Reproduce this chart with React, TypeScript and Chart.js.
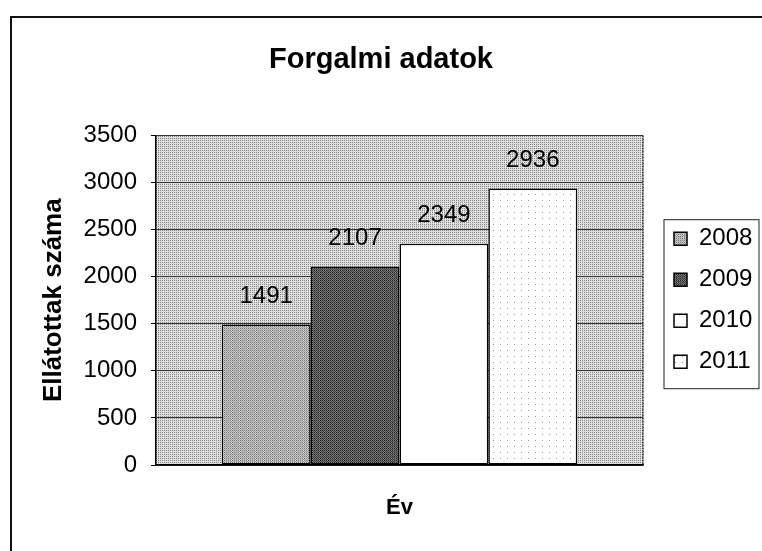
import React, { useEffect, useRef } from "react";
import { Chart, registerables } from "chart.js";

Chart.register(...registerables);

const categories = [""];
const seriesNames = ["2008", "2009", "2010", "2011"];
const values2008 = [1491];
const values2009 = [2107];
const values2010 = [2349];
const values2011 = [2936];
const seriesValues = [values2008, values2009, values2010, values2011];
const yTicks = [0, 500, 1000, 1500, 2000, 2500, 3000, 3500];
const chartTitle = "Forgalmi adatok";
const yTitle = "Ellátottak száma";
const xTitle = "Év";

const FONT = "'Liberation Sans', Arial, Helvetica, sans-serif";

export default function App() {
  const ref = useRef<HTMLCanvasElement>(null);

  useEffect(() => {
    document.body.style.margin = "0";
    document.body.style.overflow = "hidden";
    const canvas = ref.current!;
    const ctx = canvas.getContext("2d")!;

    const pat = (rows: string[][]) => {
      const c = document.createElement("canvas");
      c.width = rows[0].length;
      c.height = rows.length;
      const g = c.getContext("2d")!;
      rows.forEach((r, y) =>
        r.forEach((col, x) => {
          g.fillStyle = col;
          g.fillRect(x, y, 1, 1);
        })
      );
      return ctx.createPattern(c, "repeat")!;
    };

    const plotFill = pat([
      ["#8a8a8a", "#dedede"],
      ["#d6d6d6", "#e2e2e2"],
    ]);
    const W = "#ffffff";
    const fills: any[] = [
      pat([
        ["#7a7a7a", "#c8c8c8"],
        ["#c0c0c0", "#aaaaaa"],
      ]),
      pat([
        ["#2a2a2a", "#7a7a7a"],
        ["#6a6a6a", "#4a4a4a"],
      ]),
      "#ffffff",
      pat([
        [W, W, W, W, W, W, W],
        [W, W, W, W, W, W, W],
        [W, W, W, "#9a9a9a", W, W, W],
        [W, W, W, W, W, W, W],
        [W, W, W, W, W, W, W],
        [W, W, W, W, W, W, W],
      ]),
    ];

    const decor = {
      id: "decor",
      beforeDraw(chart: any) {
        const c = chart.ctx;
        const a = chart.chartArea;
        c.save();
        c.fillStyle = "#ffffff";
        c.fillRect(0, 0, chart.width, chart.height);
        c.strokeStyle = "#111";
        c.lineWidth = 2;
        c.beginPath();
        c.moveTo(11, chart.height);
        c.lineTo(11, 17);
        c.lineTo(chart.width, 17);
        c.stroke();
        c.fillStyle = plotFill;
        c.fillRect(a.left, a.top, a.right - a.left, a.bottom - a.top);
        c.restore();
      },
      afterDatasetsDraw(chart: any) {
        const c = chart.ctx;
        c.save();
        c.font = `24px ${FONT}`;
        c.fillStyle = "#000";
        c.textAlign = "center";
        c.textBaseline = "middle";
        chart.data.datasets.forEach((ds: any, i: number) => {
          const meta = chart.getDatasetMeta(i);
          meta.data.forEach((el: any, j: number) => {
            c.fillText(String(ds.data[j]), el.x, el.y - 28);
          });
        });
        c.restore();
      },
      afterDraw(chart: any) {
        const c = chart.ctx;
        const a = chart.chartArea;
        c.save();
        c.strokeStyle = "#333";
        c.lineWidth = 1.5;
        c.setLineDash([2, 1]);
        c.beginPath();
        c.moveTo(a.right, a.top);
        c.lineTo(a.right, a.bottom);
        c.stroke();
        c.setLineDash([]);
        const hb = chart.legend && chart.legend.legendHitBoxes;
        if (hb && hb.length) {
          const left = Math.min(...hb.map((h: any) => h.left));
          const top = Math.min(...hb.map((h: any) => h.top));
          const bottom = Math.max(...hb.map((h: any) => h.top + h.height));
          c.strokeStyle = "#222";
          c.lineWidth = 1;
          c.strokeRect(left - 10, top - 7, 95, bottom + 15 - (top - 7));
        }
        c.restore();
      },
    };

    const chart = new Chart(canvas, {
      type: "bar",
      data: {
        labels: categories,
        datasets: seriesNames.map((n, i) => ({
          label: n,
          data: seriesValues[i],
          backgroundColor: fills[i],
          borderColor: "#000",
          borderWidth: 1.5,
          borderSkipped: false,
          xAxisID: "x",
          yAxisID: "y",
        })),
      },
      options: {
        responsive: false,
        animation: false,
        events: [],
        layout: { padding: { left: 0, right: 0, top: 0, bottom: 0 } },
        datasets: { bar: { categoryPercentage: 0.73, barPercentage: 1 } },
        plugins: {
          title: {
            display: true,
            text: chartTitle,
            color: "#000",
            font: { family: FONT, size: 29, weight: "bold" },
            padding: { top: 43, bottom: 57.6 },
          },
          legend: {
            position: "right",
            fullSize: false,
            maxWidth: 105,
            labels: {
              color: "#000",
              font: { family: FONT, size: 24 },
              boxWidth: 13,
              boxHeight: 13,
              padding: 17,
            },
          },
          tooltip: { enabled: false },
        },
        scales: {
          x: {
            grid: { display: false },
            border: { display: true, color: "#000", width: 1.5 },
            ticks: { display: false },
            title: {
              display: true,
              text: xTitle,
              color: "#000",
              font: { family: FONT, size: 22, weight: "bold" },
              padding: { top: 0, bottom: 30 },
            },
            afterFit: (s: any) => {
              s.height = 86;
            },
          },
          y: {
            min: yTicks[0],
            max: yTicks[yTicks.length - 1],
            ticks: {
              stepSize: yTicks[1] - yTicks[0],
              color: "#000",
              font: { family: FONT, size: 24 },
              padding: 14,
              callback: (v: any) => String(v),
            },
            grid: { color: "#333", lineWidth: 1, tickLength: 5, tickColor: "#000" },
            border: { display: true, color: "#000", width: 1.5 },
            title: {
              display: true,
              text: yTitle,
              color: "#000",
              font: { family: FONT, size: 26, weight: "bold" },
              padding: { top: 38, bottom: 0 },
            },
            afterFit: (s: any) => {
              s.width = 156;
            },
          },
          yR: {
            type: "linear",
            position: "right",
            grid: { display: false },
            ticks: { display: false },
            border: { display: false },
            afterFit: (s: any) => {
              s.width = 14;
            },
          },
        },
      } as any,
      plugins: [decor],
    });

    return () => chart.destroy();
  }, []);

  return (
    <canvas
      ref={ref}
      width={762}
      height={551}
      style={{ display: "block", width: 762, height: 551 }}
    />
  );
}
